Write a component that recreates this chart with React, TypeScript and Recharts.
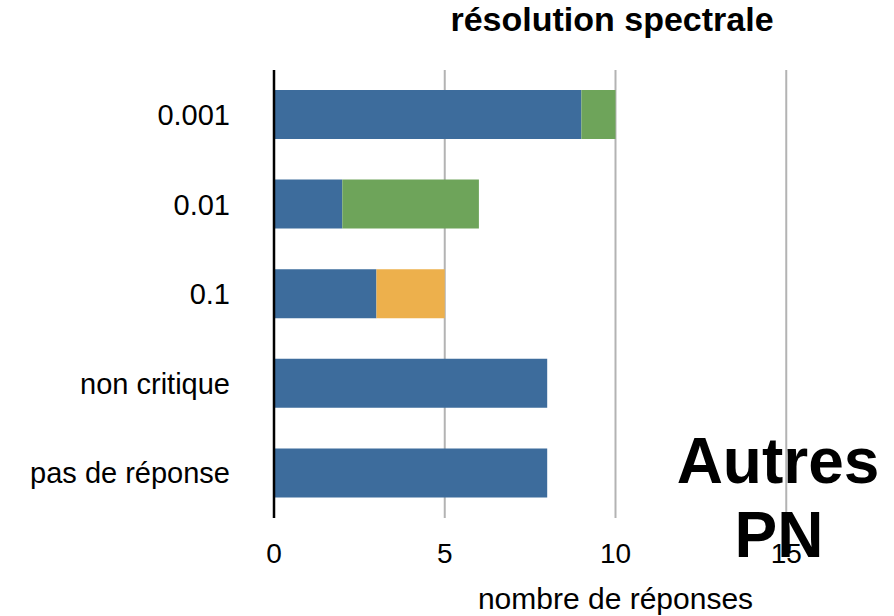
import { BarChart, Bar, XAxis, YAxis, CartesianGrid } from 'recharts';

// réponses par niveau de résolution spectrale
const categories = ['0.001', '0.01', '0.1', 'non critique', 'pas de réponse'];
const blueValues = [9, 2, 3, 8, 8];
const greenValues = [1, 4, 0, 0, 0];
const orangeValues = [0, 0, 2, 0, 0];
const xTicks = [0, 5, 10, 15];

const data = categories.map((cat, i) => ({
  cat,
  blue: blueValues[i],
  green: greenValues[i],
  orange: orangeValues[i],
}));

const FONT = '"Liberation Sans", Arial, Helvetica, sans-serif';

export default function App() {
  return (
    <div
      style={{
        position: 'fixed',
        left: 0,
        top: 0,
        width: 894,
        height: 616,
        overflow: 'hidden',
        background: '#fff',
        fontFamily: FONT,
      }}
    >
      <BarChart
        width={960}
        height={616}
        data={data}
        layout="vertical"
        margin={{ top: 70, right: 3, bottom: 0, left: 0 }}
        barSize={49}
      >
        <CartesianGrid horizontal={false} stroke="#b3b3b3" strokeWidth={2} />
        <XAxis
          type="number"
          domain={[0, 20]}
          ticks={xTicks}
          height={98}
          axisLine={false}
          tickLine={false}
          tickSize={0}
          tickMargin={25}
          tick={{ fill: '#000', fontSize: 28, fontFamily: FONT }}
          label={{
            value: 'nombre de réponses',
            position: 'insideBottom',
            offset: 7,
            fill: '#000',
            fontSize: 30,
            fontFamily: FONT,
          }}
        />
        <YAxis
          type="category"
          dataKey="cat"
          width={274}
          axisLine={{ stroke: '#000', strokeWidth: 2.5 }}
          tickLine={false}
          tickSize={0}
          tickMargin={44}
          tick={{ fill: '#000', fontSize: 29, fontFamily: FONT }}
        />
        <Bar dataKey="blue" stackId="a" fill="#3d6c9c" isAnimationActive={false} />
        <Bar dataKey="green" stackId="a" fill="#6ea45a" isAnimationActive={false} />
        <Bar dataKey="orange" stackId="a" fill="#edb04c" isAnimationActive={false} />
      </BarChart>
      <svg
        width={894}
        height={616}
        style={{ position: 'absolute', left: 0, top: 0, pointerEvents: 'none' }}
      >
        <text
          x={612}
          y={31}
          textAnchor="middle"
          fontFamily={FONT}
          fontWeight="bold"
          fontSize={34}
          fill="#000"
        >
          résolution spectrale
        </text>
        <text
          x={778}
          y={483}
          textAnchor="middle"
          fontFamily={FONT}
          fontWeight="bold"
          fontSize={64}
          fill="#000"
        >
          Autres
        </text>
        <text
          x={779}
          y={557}
          textAnchor="middle"
          fontFamily={FONT}
          fontWeight="bold"
          fontSize={64}
          fill="#000"
        >
          PN
        </text>
      </svg>
    </div>
  );
}
